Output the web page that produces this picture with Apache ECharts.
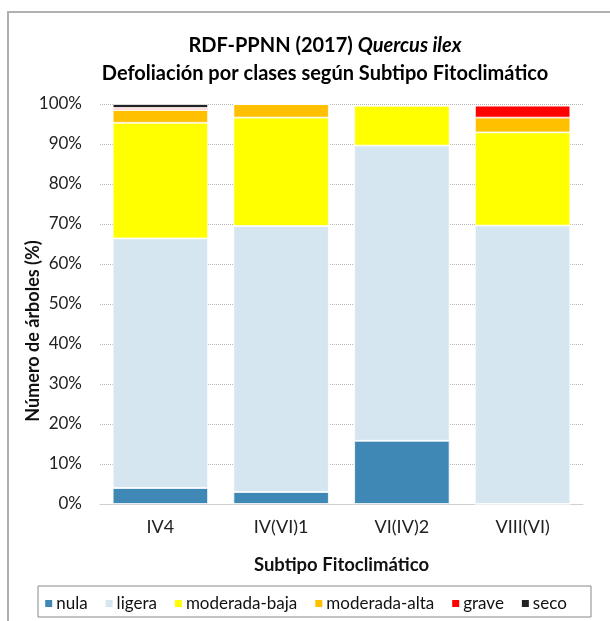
<!DOCTYPE html>
<html>
<head>
<meta charset="utf-8">
<script src="https://cdn.jsdelivr.net/npm/echarts@6/dist/echarts.min.js"></script>
<style>
  html, body {margin: 0; padding: 0; background: #fff;}
  #chart {width: 610px; height: 621px;}
</style>
</head>
<body>
<div id="chart"></div>
<script>
// datos (%)
var subtipos = ['IV4', 'IV(VI)1', 'VI(IV)2', 'VIII(VI)'];
var clases = ['nula', 'ligera', 'moderada-baja', 'moderada-alta', 'grave', 'seco'];
var colores = ['#3f88b5', '#d6e6f0', '#ffff00', '#ffc000', '#ff0000', '#222222'];
var nula = [4.0, 3.0, 15.8, 0];
var ligera = [62.4, 66.5, 73.8, 69.6];
var moderadaBaja = [28.9, 27.1, 10.0, 23.3];
var moderadaAlta = [3.2, 3.4, 0, 3.7];
var grave = [0.5, 0, 0, 3.0];
var seco = [1.0, 0, 0, 0];
var yTicks = [0, 10, 20, 30, 40, 50, 60, 70, 80, 90, 100];

var valores = [nula, ligera, moderadaBaja, moderadaAlta, grave, seco];
var fuente = 'Lato, "Open Sans", sans-serif';

var chart = echarts.init(document.getElementById('chart'));

var series = clases.map(function (nombre, i) {
    return {
        name: nombre,
        type: 'bar',
        stack: 'total',
        barCategoryGap: '21%',
        itemStyle: {color: colores[i], borderColor: '#fff', borderWidth: 0.8},
        emphasis: {disabled: true},
        data: valores[i]
    };
});

var option = {
    animation: false,
    textStyle: {fontFamily: fuente},
    title: {
        left: 320,
        top: 27,
        textAlign: 'center',
        text: '{b|RDF-PPNN (2017) }{i|Quercus ilex}\n{b|Defoliación por clases según Subtipo Fitoclimático}',
        textStyle: {
            rich: {
                b: {fontFamily: fuente, fontSize: 20, fontWeight: 'bold', color: '#000', lineHeight: 28},
                i: {fontFamily: fuente, fontSize: 20, fontWeight: 'bold', fontStyle: 'italic', color: '#000', lineHeight: 28}
            }
        }
    },
    legend: {
        data: clases,
        left: 'center',
        top: 590,
        itemWidth: 9,
        itemHeight: 9,
        itemGap: 16,
        icon: 'rect',
        textStyle: {fontFamily: fuente, fontSize: 17, color: '#111', padding: [0, 0, 0, -2]}
    },
    grid: {left: 100, right: 27, top: 104, bottom: 117},
    xAxis: {
        type: 'category',
        data: subtipos,
        name: 'Subtipo Fitoclimático',
        nameLocation: 'middle',
        nameGap: 52,
        nameTextStyle: {fontFamily: fuente, fontSize: 18.5, fontWeight: 'bold', color: '#111'},
        axisLine: {lineStyle: {color: '#d0d0d0'}},
        axisTick: {show: false},
        axisLabel: {fontSize: 18, color: '#222', margin: 14}
    },
    yAxis: {
        type: 'value',
        min: 0,
        max: 100,
        interval: 10,
        axisLine: {show: false},
        axisTick: {show: false},
        axisLabel: {
            fontSize: 17,
            color: '#222',
            margin: 18,
            formatter: function (v) { return yTicks.indexOf(v) >= 0 ? v + '%' : ''; }
        },
        splitLine: {lineStyle: {color: '#b8b8b8', type: 'dotted'}}
    },
    graphic: [
        {type: 'rect', shape: {x: 8, y: 12, width: 620, height: 620}, style: {fill: 'none', stroke: '#b0b0b0', lineWidth: 2}, silent: true, z: -1},
        {type: 'rect', shape: {x: 38, y: 586, width: 553, height: 31}, style: {fill: 'none', stroke: '#888', lineWidth: 1}, silent: true},
        {
            type: 'text',
            x: 33,
            y: 331,
            rotation: Math.PI / 2,
            style: {
                text: 'Número de árboles (%)',
                fontFamily: fuente,
                fontSize: 18,
                fontWeight: 'bold',
                fill: '#111',
                align: 'center',
                verticalAlign: 'middle'
            }
        }
    ],
    series: series
};

chart.setOption(option);
</script>
</body>
</html>
